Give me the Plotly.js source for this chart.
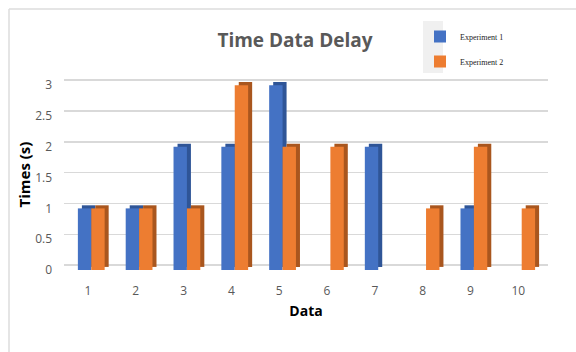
<!DOCTYPE html>
<html>
<head>
<meta charset="utf-8">
<script src="https://cdn.plot.ly/plotly-3.0.1.min.js"></script>
<style>html,body{margin:0;padding:0;background:#fff;}#chart{width:576px;height:352px;}</style>
</head>
<body>
<div id="chart"></div>
<script>
const categories = ['1','2','3','4','5','6','7','8','9','10'];
const experiment1 = [1, 1, 2, 2, 3, 0, 2, 0, 1, 0];
const experiment2 = [1, 1, 1, 3, 2, 2, 0, 1, 2, 1];
const seriesNames = ['Experiment 1', 'Experiment 2'];
const yTicks = [0, 0.5, 1, 1.5, 2, 2.5, 3];
const yTickText = ['0', '0.5', '1', '1.5', '2', '2.5', '3'];

const faceW = 0.28, off1 = -0.21, off2 = 0.07, depthX = 0.084, depthY = 0.05;

const traces = [
  {type:'scatter', mode:'none', x:categories, y:experiment1, yaxis:'y2', showlegend:false, hoverinfo:'skip'},
  {type:'bar', x:categories, y:experiment1, base:depthY, offset:off1+depthX, width:faceW,
   marker:{color:'#2f5597', line:{width:0}}, showlegend:false, hoverinfo:'skip', opacity:1},
  {type:'bar', x:categories, y:experiment2, base:depthY, offset:off2+depthX, width:faceW,
   marker:{color:'#a9561e', line:{width:0}}, showlegend:false, hoverinfo:'skip', opacity:1},
  {type:'bar', x:categories, y:experiment1, offset:off1, width:faceW, name:seriesNames[0], legendgroup:'a',
   marker:{color:'#4472c4', line:{width:0}}, opacity:1},
  {type:'bar', x:categories, y:experiment2, offset:off2, width:faceW, name:seriesNames[1], legendgroup:'b',
   marker:{color:'#ed7d31', line:{width:0}}, opacity:1}
];

const L = 64, R = 28, T = 79, B = 82, W = 576, H = 352;
const pw = W - L - R, ph = H - T - B;
const px = v => (v - L) / pw;
const py = v => (H - B - v) / ph;

const layout = {
  width: W, height: H,
  margin: {l:L, r:R, t:T, b:B, pad:0},
  paper_bgcolor:'#ffffff', plot_bgcolor:'rgba(0,0,0,0)',
  barmode:'overlay',
  font:{family:'Open Sans, sans-serif', color:'#595959'},
  title:{text:'<b>Time Data Delay</b>', font:{family:'Open Sans', size:19, color:'#595959'},
         xref:'container', x:295/576, xanchor:'center', yref:'container', y:1-40/352, yanchor:'middle'},
  xaxis:{type:'category', range:[-0.5, 9.62], showgrid:false, zeroline:false, showline:false,
         ticks:'', tickfont:{size:12, color:'#595959'}, ticklabelstandoff:12,
         title:{text:'<b>Data</b>', font:{size:14, color:'#000'}, standoff:8}},
  yaxis:{range:[0, 3.1], tickvals:yTicks, ticktext:yTickText, showgrid:false, zeroline:false, showline:false,
         ticks:'', tickfont:{size:12, color:'#595959'}, ticklabelstandoff:11,
         title:{text:'<b>Times (s)</b>', font:{size:15, color:'#000'}, standoff:0}},
  yaxis2:{overlaying:'y', range:[-0.08, 3.02], tickvals:yTicks, showgrid:true, gridcolor:'#d9d9d9', gridwidth:1.5,
          showticklabels:false, zeroline:false, showline:false, ticks:''},
  legend:{x:px(420), y:py(22), xanchor:'left', yanchor:'top', bgcolor:'rgba(0,0,0,0)',
          font:{family:'Liberation Serif', size:8, color:'#222'}, traceorder:'grouped', tracegroupgap:6},
  shapes:[
    {type:'rect', xref:'paper', yref:'paper', x0:px(423), x1:px(443), y0:py(73), y1:py(21),
     fillcolor:'#f0f0f0', line:{width:0}, layer:'below'},
    {type:'line', xref:'paper', yref:'paper', x0:px(9), x1:px(576), y0:py(9), y1:py(9),
     line:{color:'#dcdcdc', width:1.5}},
    {type:'line', xref:'paper', yref:'paper', x0:px(9), x1:px(9), y0:py(9), y1:py(352),
     line:{color:'#dcdcdc', width:1.5}}
  ],
  showlegend:true
};

Plotly.newPlot('chart', traces, layout, {displayModeBar:false, staticPlot:true});
</script>
</body>
</html>
